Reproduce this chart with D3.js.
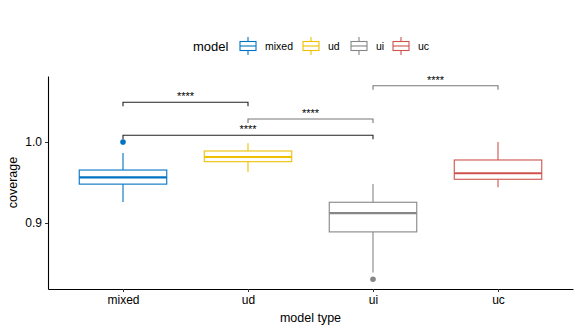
<!DOCTYPE html>
<html lang="en">
<head>
<meta charset="UTF-8">
<title>coverage by model type</title>
<script src="https://d3js.org/d3.v7.min.js"></script>
<style>
  body { margin: 0; background: #fff; }
  text { font-family: "Liberation Sans", Arial, sans-serif; }
</style>
</head>
<body>
<div id="chart"></div>
<script>
// box statistics
const models = ["mixed", "ud", "ui", "uc"];
const colors = ["#0073C2", "#EFC000", "#868686", "#CD534C"];
const whiskerLow = [0.926, 0.963, 0.839, 0.944];
const q1 = [0.948, 0.9757, 0.889, 0.954];
const median = [0.9564, 0.9815, 0.9123, 0.9614];
const q3 = [0.9654, 0.9889, 0.9256, 0.9778];
const whiskerHigh = [0.9864, 0.9984, 0.9481, 1.0];
const outliers = [[1.0], [], [0.8305], []];

// significance brackets
const groupA = ["mixed", "ud", "mixed", "ui"];
const groupB = ["ud", "ui", "ui", "uc"];
const bracketY = [1.049, 1.0284, 1.0083, 1.0695];
const bracketLabel = ["****", "****", "****", "****"];
const bracketColor = ["#222", "#777", "#222", "#777"];

const yTicks = [0.9, 1.0];

const width = 581, height = 332;
const margin = {top: 76, right: 8, bottom: 43, left: 48};

const svg = d3.select("#chart").append("svg")
    .attr("width", width)
    .attr("height", height);

const x = d3.scalePoint()
    .domain(models)
    .range([margin.left, width - margin.right])
    .padding(0.6);

const y = d3.scaleLinear()
    .domain([0.8185, 1.0815])
    .range([height - margin.bottom, margin.top]);

const boxW = x.step() * 0.7;

// axes
const xAxis = svg.append("g")
    .attr("transform", `translate(0,${height - margin.bottom})`)
    .call(d3.axisBottom(x).tickSize(3).tickPadding(3).tickSizeOuter(0));
xAxis.select(".domain").attr("stroke", "#000").attr("stroke-width", 1.1);
xAxis.selectAll(".tick line").attr("stroke", "#333");
xAxis.selectAll("text").attr("font-size", 12).attr("fill", "#000");

const yAxis = svg.append("g")
    .attr("transform", `translate(${margin.left},0)`)
    .call(d3.axisLeft(y).tickValues(yTicks).tickFormat(d3.format(".1f")).tickSize(3).tickPadding(3).tickSizeOuter(0));
yAxis.select(".domain").attr("stroke", "#000").attr("stroke-width", 1.1);
yAxis.selectAll(".tick line").attr("stroke", "#333");
yAxis.selectAll("text").attr("font-size", 12).attr("fill", "#000");

svg.append("text")
    .attr("x", (margin.left + width - margin.right) / 2)
    .attr("y", 322)
    .attr("text-anchor", "middle")
    .attr("font-size", 12.5)
    .text("model type");

svg.append("text")
    .attr("transform", `translate(17,${(margin.top + height - margin.bottom) / 2}) rotate(-90)`)
    .attr("text-anchor", "middle")
    .attr("font-size", 12.5)
    .text("coverage");

// boxes
const boxes = svg.append("g").selectAll("g")
    .data(models)
    .join("g");

boxes.append("line")
    .attr("x1", d => x(d)).attr("x2", d => x(d))
    .attr("y1", (d, i) => y(whiskerHigh[i]))
    .attr("y2", (d, i) => y(q3[i]))
    .attr("stroke", (d, i) => colors[i]).attr("stroke-width", 1.1);

boxes.append("line")
    .attr("x1", d => x(d)).attr("x2", d => x(d))
    .attr("y1", (d, i) => y(q1[i]))
    .attr("y2", (d, i) => y(whiskerLow[i]))
    .attr("stroke", (d, i) => colors[i]).attr("stroke-width", 1.1);

boxes.append("rect")
    .attr("x", d => x(d) - boxW / 2)
    .attr("width", boxW)
    .attr("y", (d, i) => y(q3[i]))
    .attr("height", (d, i) => y(q1[i]) - y(q3[i]))
    .attr("fill", "#fff")
    .attr("stroke", (d, i) => colors[i]).attr("stroke-width", 1.1);

boxes.append("line")
    .attr("x1", d => x(d) - boxW / 2).attr("x2", d => x(d) + boxW / 2)
    .attr("y1", (d, i) => y(median[i]))
    .attr("y2", (d, i) => y(median[i]))
    .attr("stroke", (d, i) => colors[i]).attr("stroke-width", 2.2);

boxes.each(function(d, i) {
  d3.select(this).selectAll("circle")
      .data(outliers[i])
      .join("circle")
      .attr("cx", x(d))
      .attr("cy", v => y(v))
      .attr("r", 2.8)
      .attr("fill", colors[i]);
});

// brackets
const tick = 4;
const br = svg.append("g").selectAll("g")
    .data(bracketY)
    .join("g");

br.append("path")
    .attr("d", (v, i) => {
      const x1 = x(groupA[i]), x2 = x(groupB[i]), yy = y(v);
      return `M${x1},${yy + tick}V${yy}H${x2}V${yy + tick}`;
    })
    .attr("fill", "none")
    .attr("stroke", (v, i) => bracketColor[i])
    .attr("stroke-width", 1.1);

br.append("text")
    .attr("x", (v, i) => (x(groupA[i]) + x(groupB[i])) / 2)
    .attr("y", v => y(v) - 2)
    .attr("text-anchor", "middle")
    .attr("font-size", 11)
    .attr("fill", "#000")
    .text((v, i) => bracketLabel[i]);

// legend
const legend = svg.append("g").attr("transform", "translate(0,46)");
legend.append("text")
    .attr("x", 193).attr("y", 0)
    .attr("dy", "0.35em")
    .attr("font-size", 13)
    .text("model");

const keyX = [240, 303, 351, 393];
const items = legend.selectAll("g.key")
    .data(models)
    .join("g")
    .attr("class", "key")
    .attr("transform", (d, i) => `translate(${keyX[i]},0)`);

items.append("line")
    .attr("x1", 8).attr("x2", 8).attr("y1", -9).attr("y2", 9)
    .attr("stroke", (d, i) => colors[i]).attr("stroke-width", 1.1);
items.append("rect")
    .attr("x", 0).attr("y", -4.5).attr("width", 16).attr("height", 9)
    .attr("fill", "#fff")
    .attr("stroke", (d, i) => colors[i]).attr("stroke-width", 1.1);
items.append("line")
    .attr("x1", 0).attr("x2", 16).attr("y1", 0).attr("y2", 0)
    .attr("stroke", (d, i) => colors[i]).attr("stroke-width", 1.1);
items.append("text")
    .attr("x", 25).attr("y", 0)
    .attr("dy", "0.35em")
    .attr("font-size", 10.5)
    .text(d => d);
</script>
</body>
</html>
